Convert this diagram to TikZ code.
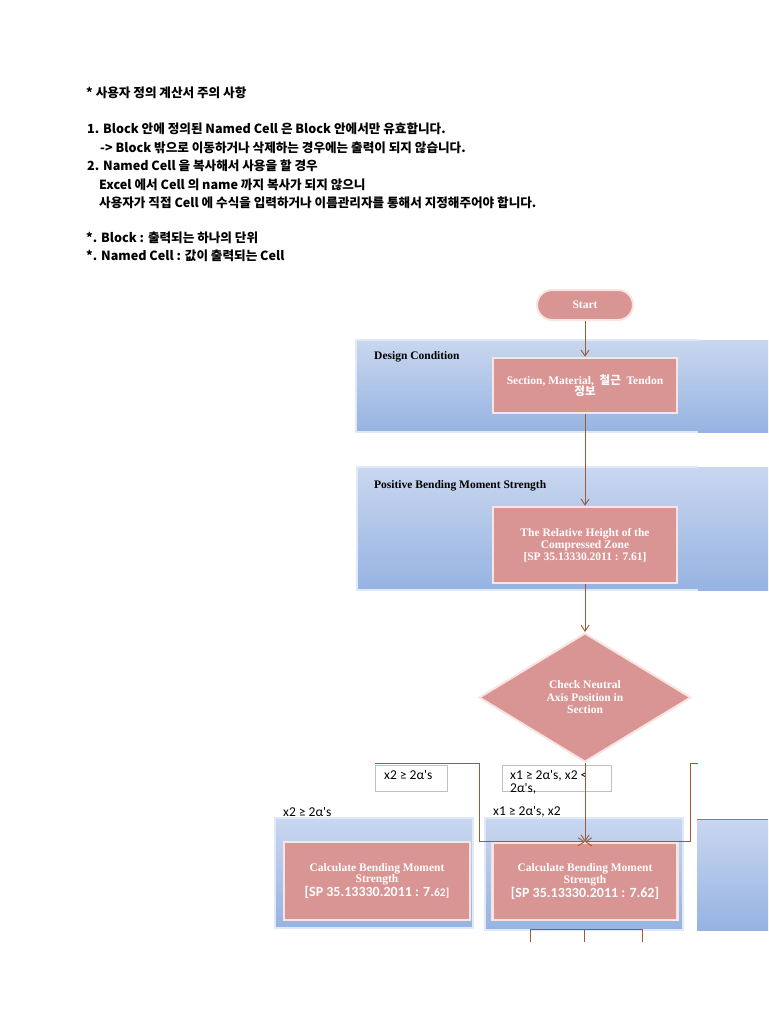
\documentclass[tikz,border=0pt]{standalone}
\usepackage{fontspec}
\setmainfont{Liberation Serif}
\newfontfamily\krfont{Noto Sans CJK KR}
\newfontfamily\calfont{Carlito}
\newcommand\spref{\calfont\bfseries\fontsize{14}{13}\selectfont}
\usetikzlibrary{shapes.geometric,arrows.meta}
\definecolor{boxpink}{RGB}{217,149,148}
\definecolor{boxedge}{RGB}{248,228,224}
\definecolor{bandtop}{RGB}{201,215,239}
\definecolor{bandbot}{RGB}{150,179,226}
\definecolor{bandedge}{RGB}{224,233,247}
\definecolor{arrowc}{RGB}{157,90,52}
\definecolor{lblgray}{RGB}{192,192,192}
\definecolor{rtop}{RGB}{150,120,100}
\tikzset{
  band/.style={top color=bandtop,bottom color=bandbot,draw=bandedge,line width=1.5pt},
  bandplain/.style={top color=bandtop,bottom color=bandbot},
  bandrim/.style={draw=bandedge,line width=1.5pt},
  procbox/.style={fill=boxpink,draw=boxedge,line width=2.5pt,text=white,
    font=\bfseries\fontsize{11.5}{11.5}\selectfont,align=center,inner sep=0pt},
  pill/.style={fill=boxpink,draw=boxedge,line width=2pt,rounded corners=15pt,
    text=white,font=\bfseries\fontsize{11.5}{12}\selectfont,minimum width=96pt,minimum height=30pt},
  decision/.style={shape=diamond,fill=boxpink,draw=boxedge,line width=2pt,text=white,
    font=\bfseries\fontsize{11.5}{12.5}\selectfont,align=center,inner sep=0pt,aspect=1.64,
    minimum width=212pt,minimum height=129pt},
  lblbox/.style={draw=lblgray,line width=0.8pt,fill=white,inner sep=0pt},
  lbltext/.style={font=\calfont\fontsize{13.5}{13}\selectfont,inner sep=0pt,anchor=west},
  bandlbl/.style={font=\bfseries\fontsize{11.5}{12}\selectfont,inner sep=0pt,anchor=west},
  note/.style={font=\krfont\bfseries\fontsize{12.6}{13}\selectfont,inner sep=0pt,anchor=west},
  conn/.style={draw=arrowc,line width=0.9pt,-{Straight Barb[length=6pt,width=8pt]}},
  plainline/.style={draw=arrowc,line width=0.9pt}
}
\begin{document}
\begin{tikzpicture}[x=1pt,y=-1pt]
\useasboundingbox (0,0) rectangle (768,1024);
\fill[white] (0,0) rectangle (768,1024);

% top notes
\node[note] (n1) at (86,93) {* 사용자 정의 계산서 주의 사항};
\node[note] (n2) at (87,129) {1. Block 안에 정의된 Named Cell 은 Block 안에서만 유효합니다.};
\node[note] (n3) at (100,148) {-> Block 밖으로 이동하거나 삭제하는 경우에는 출력이 되지 않습니다.};
\node[note] (n4) at (87,166) {2. Named Cell 을 복사해서 사용을 할 경우};
\node[note] (n5) at (99,185) {Excel 에서 Cell 의 name 까지 복사가 되지 않으니};
\node[note] (n6) at (99,203) {사용자가 직접 Cell 에 수식을 입력하거나 이름관리자를 통해서 지정해주어야 합니다.};
\node[note] (n7) at (86,238) {*. Block : 출력되는 하나의 단위};
\node[note] (n8) at (86,256) {*. Named Cell : 값이 출력되는 Cell};

% bands
\path[bandplain] (356,340) rectangle (768,432);
\draw[bandrim] (698,340) -- (356,340) -- (356,432) -- (698,432);
\path[bandplain] (357,467) rectangle (768,590);
\draw[bandrim] (698,467) -- (357,467) -- (357,590) -- (698,590);
\path[band] (275,818) rectangle (473,928);
\path[band] (485,818) rectangle (683,930);
\path[bandplain] (697,819) rectangle (768,930);
\draw[rtop,line width=1pt] (697,819) -- (768,819);

\node[bandlbl] (dc) at (374,357) {Design Condition};
\node[bandlbl] (pb) at (374,486) {Positive Bending Moment Strength};

% flow nodes
\node[pill] (start) at (585,305) {Start};
\node[procbox,minimum width=184pt,minimum height=55pt] (sec) at (585,385.5)
  {Section, Material,\ \ {\krfont 철근}\ \ Tendon\\{\krfont 정보}};
\node[procbox,minimum width=184pt,minimum height=76pt,font=\bfseries\fontsize{11.5}{12}\selectfont] (rel) at (585,545)
  {The Relative Height of the\\Compressed Zone\\{[}SP 35.13330.2011 : 7.61{]}};
\node[decision] (chk) at (585,697.5) {Check Neutral\\Axis Position in\\Section};

% condition label boxes
\node[lblbox,anchor=north west,minimum width=72pt,minimum height=26pt] (c1) at (375,765) {};
\node[lbltext] (c1t) at (384,775) {x2 ≥ 2α's};
\node[lblbox,anchor=north west,minimum width=109pt,minimum height=26pt] (c2) at (502,765) {};
\node[lbltext] (c2t) at (510,776) {x1 ≥ 2α's, x2 <};
\node[lbltext] (c2u) at (510,789) {2α's,};

\node[lbltext] (b1t) at (283,812) {x2 ≥ 2α's};
\node[lbltext] (b2t) at (493,812) {x1 ≥ 2α's, x2};

% lower boxes
\node[procbox,minimum width=186pt,minimum height=78pt] (lbox) at (377,881)
  {Calculate Bending Moment\\Strength\\{\spref {[}SP 35.13330.2011 : 7.{\fontsize{11.5}{13}\selectfont 62{]}}}};
\node[procbox,minimum width=185pt,minimum height=77pt] (mid) at (585,881.5)
  {Calculate Bending Moment\\Strength\\{\spref {[}SP 35.13330.2011 : 7.62{]}}};

% connectors
\draw[conn] (start) -- (sec);
\draw[conn] (sec) -- (rel);
\draw[conn] (rel) -- (chk);
\coordinate (ls) at (375,763);
\coordinate (lc) at (479,763);
\coordinate (rs) at (698,763);
\coordinate (rc) at (690,763);
\draw[conn] (ls) -- (lc) |- (mid.north);
\draw[conn] (rs) -- (rc) |- (mid.north);
\draw[conn] (chk.south) -- (mid.north);

\coordinate (bl) at (530,942);
\coordinate (bm) at (584,942);
\coordinate (bmt) at (584,929);
\coordinate (br) at (642,942);
\draw[plainline] (bl) |- (br |- bmt) -- (br);
\draw[plainline] (bmt) -- (bm);
\end{tikzpicture}
\end{document}
